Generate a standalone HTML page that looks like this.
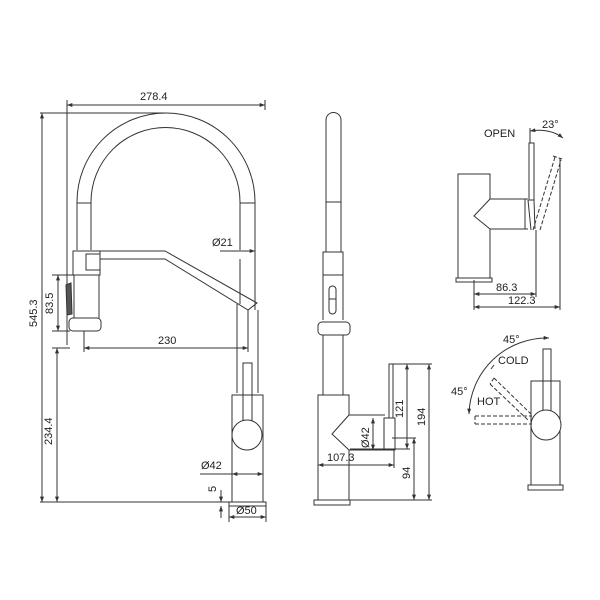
<!DOCTYPE html>
<html><head><style>body{margin:0;background:#fff}svg{display:block}text{font-family:"Liberation Sans",sans-serif;font-size:11px;fill:#222}</style></head>
<body>
<svg width="600" height="600" viewBox="0 0 600 600" xmlns="http://www.w3.org/2000/svg">
<defs>
<marker id="a" viewBox="0 0 8 6" refX="8" refY="3" markerWidth="6" markerHeight="4" orient="auto-start-reverse"><path d="M0,0L8,3L0,6z" fill="#333"/></marker>
</defs>
<g fill="none" stroke="#333" stroke-width="1">
<!-- main view -->
<path d="M67,100V345M265,100V110M40,113H166"/>
<line x1="67" y1="105" x2="265" y2="105" marker-start="url(#a)" marker-end="url(#a)"/>
<path d="M77,250V202A89,89 0 0 1 255,202V310M91,250V202A74.5,74.5 0 0 1 240,202V250M240,259V304"/>
<path d="M77,203H91M240,203H255"/>
<line x1="220" y1="251" x2="255" y2="251"/>
<line x1="240" y1="251" x2="255" y2="251" marker-end="url(#a)"/>
<path d="M100,251H165L257,303L248,310L165,259H100"/>
<path d="M237,304V393M258,310V393M248,310V352"/>
<rect x="73" y="251" width="27" height="24"/>
<rect x="86" y="254" width="14" height="16"/>
<path d="M74,275V318M99,275V318"/>
<rect x="69" y="318" width="32" height="13" rx="4"/>
<path d="M66,285L71,283L72,314L67,315Z" fill="#555"/>
<line x1="58" y1="275" x2="58" y2="331" marker-start="url(#a)" marker-end="url(#a)"/>
<path d="M52,275H74M52,331H70"/>
<line x1="42" y1="113" x2="42" y2="502" marker-start="url(#a)" marker-end="url(#a)"/>
<line x1="84" y1="348" x2="248" y2="348" marker-start="url(#a)" marker-end="url(#a)"/>
<path d="M84,331V352"/>
<line x1="57" y1="348" x2="57" y2="502" marker-start="url(#a)" marker-end="url(#a)"/>
<path d="M52,348H70"/>
<rect x="243" y="363" width="9" height="60"/>
<rect x="232" y="395" width="31" height="107"/>
<circle cx="247" cy="435" r="15" fill="#fff"/>
<rect x="229" y="502" width="37" height="4"/>
<path d="M40,502H229M229,506V522M266,506V522"/>
<line x1="200" y1="474" x2="232" y2="474"/>
<line x1="232" y1="474" x2="263" y2="474" marker-start="url(#a)" marker-end="url(#a)"/>
<line x1="229" y1="517" x2="266" y2="517" marker-start="url(#a)" marker-end="url(#a)"/>
<line x1="221" y1="490" x2="221" y2="502" marker-end="url(#a)"/>
<line x1="221" y1="518" x2="221" y2="506" marker-end="url(#a)"/>
<!-- side view -->
<path d="M326,202V120A7.5,7.5 0 0 1 341,120V202M326,202V252M341,202V252M326,202H341"/>
<rect x="323" y="252" width="20" height="23"/>
<path d="M323,275V320M343,275V320"/>
<rect x="329" y="286" width="7" height="28" rx="3.5"/>
<path d="M329,299H336"/>
<rect x="318" y="322" width="32" height="13" rx="4"/>
<path d="M323,335V395M343,335V395"/>
<path d="M349,415V395H318V500H349V450"/>
<path d="M349,415L332,434L349,450M349,415H385M349,450H385"/>
<rect x="384" y="418" width="11" height="32"/>
<rect x="389" y="364" width="4" height="54"/>
<rect x="314" y="500" width="36" height="5"/>
<path d="M392,364H432M350,449H410M392,438H416M350,500H432"/>
<line x1="407" y1="364" x2="407" y2="449" marker-start="url(#a)" marker-end="url(#a)"/>
<line x1="429" y1="364" x2="429" y2="500" marker-start="url(#a)" marker-end="url(#a)"/>
<line x1="414" y1="438" x2="414" y2="500" marker-start="url(#a)" marker-end="url(#a)"/>
<line x1="373" y1="418" x2="373" y2="450" marker-start="url(#a)" marker-end="url(#a)"/>
<line x1="318" y1="465" x2="394" y2="465" marker-start="url(#a)" marker-end="url(#a)"/>
<path d="M394,450V468"/>
<!-- top right view -->
<path d="M490,199V174H458V278H490V229"/>
<path d="M490,199L474,216L490,229M490,199H528M490,229H528"/>
<rect x="456" y="278" width="36" height="4"/>
<rect x="529" y="143" width="5" height="57"/>
<path d="M525,199V229M528,200L531,230M534,200L535,229"/>
<path d="M533,230L555,157M540,230L561,160M553,156L562,159" stroke-dasharray="4,2"/>
<path d="M530,131Q550,128 563,138" marker-start="url(#a)" marker-end="url(#a)"/>
<path d="M530,128V143M474,280V310M536,230V297M560,158V310"/>
<line x1="474" y1="294" x2="536" y2="294" marker-start="url(#a)" marker-end="url(#a)"/>
<line x1="474" y1="307" x2="560" y2="307" marker-start="url(#a)" marker-end="url(#a)"/>
<!-- bottom right view -->
<rect x="543" y="349" width="8" height="62"/>
<rect x="531" y="381" width="29" height="104"/>
<circle cx="546" cy="425" r="15" fill="#fff"/>
<rect x="528" y="485" width="35" height="5"/>
<path d="M469,414A78,78 0 0 1 549,338" marker-start="url(#a)" marker-end="url(#a)"/>
<path d="M494,365L491,369" />
<path d="M475,416H532M475,424H532M475,416V424" stroke-dasharray="4,2"/>
<path d="M494,378L532,415M490,384L528,420M494,378L490,384" stroke-dasharray="4,2"/>
</g>
<text x="140" y="100">278.4</text>
<text x="212" y="246">Ø21</text>
<text x="158" y="344">230</text>
<text x="201" y="469">Ø42</text>
<text x="236" y="514">Ø50</text>
<text transform="translate(37,327) rotate(-90)">545.3</text>
<text transform="translate(53,314) rotate(-90)">83.5</text>
<text transform="translate(52,445) rotate(-90)">234.4</text>
<text transform="translate(216,492) rotate(-90)">5</text>
<text transform="translate(403,418) rotate(-90)">121</text>
<text transform="translate(425,426) rotate(-90)">194</text>
<text transform="translate(410,479) rotate(-90)">94</text>
<text transform="translate(369,448) rotate(-90)">Ø42</text>
<text x="327" y="461">107.3</text>
<text x="484" y="137">OPEN</text>
<text x="542" y="128">23°</text>
<text x="496" y="291">86.3</text>
<text x="508" y="304">122.3</text>
<text x="503" y="343">45°</text>
<text x="498" y="364">COLD</text>
<text x="451" y="395">45°</text>
<text x="477" y="405">HOT</text>
</svg>
</body></html>
